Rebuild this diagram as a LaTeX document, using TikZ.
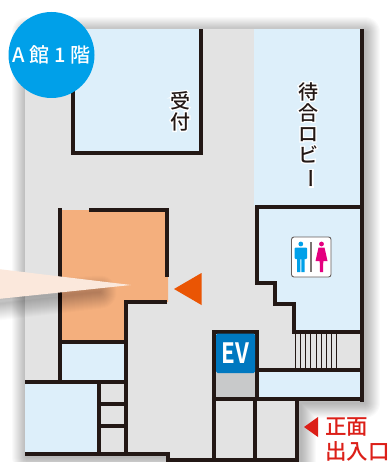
\documentclass[tikz,border=0pt]{standalone}
\usepackage{fontspec}
\setmainfont{Noto Sans CJK JP Medium}
\newfontfamily\boldlabel{Noto Sans CJK JP Bold}
\usetikzlibrary{calc}
\definecolor{wallc}{HTML}{231815}
\definecolor{floorc}{HTML}{E3E3E3}
\definecolor{roomc}{HTML}{DDEFFA}
\definecolor{orangec}{HTML}{F4AF7D}
\definecolor{calloutc}{HTML}{FBE8DC}
\definecolor{arrowc}{HTML}{EA5504}
\definecolor{cyanc}{HTML}{00A0E9}
\definecolor{evc}{HTML}{0078C0}
\definecolor{evgray}{HTML}{C8C9CA}
\definecolor{redc}{HTML}{DC1F18}
\definecolor{pinkc}{HTML}{E4007F}
\newcommand{\halotext}[1]{\leavevmode\rlap{\special{pdf:code 2 Tr 1 1 1 RG 2.6 w}\textcolor{white}{#1}\special{pdf:code 0 Tr}}#1}
\tikzset{
  wall/.style={draw=wallc,line width=4pt,line cap=butt,line join=miter},
  room/.style={fill=roomc,draw=none},
  vlabel/.style={inner sep=0pt,align=center,text=wallc,font=\fontsize{20pt}{21pt}\selectfont},
  entrylabel/.style={inner sep=0pt,anchor=west,text=redc,font=\fontsize{21.5pt}{24pt}\selectfont}
}
\begin{document}
\begin{tikzpicture}[x=1pt,y=-1pt]
\useasboundingbox (0,0) rectangle (390,462);
\clip (0,0) rectangle (390,462);
\fill[white] (0,0) rectangle (390,462);
% floor shadow
\foreach \w in {2,4,...,30}{
  \draw[black,draw opacity=0.018,line width=\w pt,line join=round]
    (27,32) -- (365,32) -- (365,403) -- (301,403) -- (301,475) -- (172,475) -- (172,457) -- (27,457) -- cycle;
}
% floor
\fill[floorc] (25,29) -- (362,29) -- (362,400) -- (298,400) -- (298,462) -- (168,462) -- (168,454) -- (25,454) -- cycle;
% rooms
\fill[room] (75,29) rectangle (199,151);
\fill[room] (254,29) rectangle (361,206);
\fill[room] (257,207) -- (361,207) -- (361,332) -- (294,332) -- (294,304) -- (275,304) -- (275,283) -- (257,283) -- cycle;
\fill[room] (60,342) rectangle (126,382);
\fill[room] (25,382) rectangle (99,454);
\fill[room] (257,370) rectangle (361,399);
\fill[orangec] (60,210) -- (168,210) -- (168,302) -- (126,302) -- (126,342) -- (60,342) -- cycle;
\fill[evgray] (214,372) rectangle (256,398);
% stairs
\foreach \sx in {295,300,305,310,316,321,326,331,336}{
  \draw[wallc,line width=0.9pt] (\sx,332) -- (\sx,370);
}
% walls
\draw[wall] (73,90) -- (73,153) -- (200.5,153) -- (200.5,29);
\draw[wall] (362,29) -- (362,402);
\draw[wall] (362,207) -- (257,207) -- (257,283) -- (275,283) -- (275,304) -- (294,304) -- (294,332) -- (362,332);
\draw[wall] (60,208) -- (60,382);
\draw[wall] (89,210) -- (167,210) -- (167,277);
\draw[wall] (167,302) -- (126,302) -- (126,454);
\draw[wall] (58,342) -- (128,342);
\draw[wall] (25,382) -- (128,382);
\draw[wall] (99,382) -- (99,454);
\draw[wall] (99,404) -- (126,404);
\draw[wall] (99,426) -- (126,426);
\draw[wall] (25,454) -- (168,454) -- (168,460) -- (297,460) -- (297,399);
\draw[wall] (214,460) -- (214,332) -- (257,332) -- (257,399);
\draw[wall] (257,370) -- (362,370);
\draw[wall] (213,399) -- (364,399);
\draw[wall] (255,399) -- (255,460);
% EV
\fill[evc,rounded corners=1.5pt] (216,333.5) rectangle (255,373);
\node[inner sep=0pt,text=white] (ev) at (235.5,353.5) {\fontsize{28pt}{28pt}\selectfont\boldlabel\scalebox{0.8}[1]{EV}};
% callout shadow
\foreach \w in {1,3,...,33}{
  \draw[black,draw opacity=0.016,line width=\w pt,line join=round]
    (-20,300) -- (100,292) -- (-20,306) -- cycle;
}
% callout
\fill[calloutc] (-2,269) -- (131,285) -- (-2,299) -- cycle;
% arrows
\fill[arrowc] (174,289) -- (201.5,273) -- (201.5,305) -- cycle;
\fill[redc] (304,427) -- (318,417) -- (318,437) -- cycle;
% badge
\fill[cyanc] (51.5,55) circle (43);
\node[inner sep=0pt,text=white] (badge) at (51.5,55) {\fontsize{20pt}{20pt}\selectfont A 館 1 階};
% labels
\node[vlabel] (reception) at (180,111) {\halotext{受}\\\halotext{付}};
\node[vlabel,anchor=north] (lobby) at (308,82) {\halotext{待}\\\halotext{合}\\\halotext{ロ}\\\halotext{ビ}\\\smash{\rotatebox[origin=c]{-90}{\halotext{ー}}}};
\node[entrylabel] (front) at (325,427) {正面};
\node[entrylabel] (entry) at (325,451.5) {出入口};
% toilet sign
\draw[wallc!70,fill=white,line width=0.9pt,rounded corners=2.5pt] (291.5,237) rectangle (331,277);
\draw[wallc!60,line width=1.2pt] (311,242) -- (311,272);
\fill[cyanc] (300.8,244) circle (2.4);
\fill[cyanc,rounded corners=1pt] (294.5,247.5) rectangle (307,259);
\fill[cyanc] (297,249) -- (304.5,249) -- (304.5,272) -- (301.3,272) -- (301.3,259) -- (300.3,259) -- (300.3,272) -- (297,272) -- cycle;
\fill[pinkc] (321.5,244) circle (2.4);
\fill[pinkc] (318.5,247.5) -- (324.5,247.5) -- (327.5,261) -- (323.3,261) -- (323,272) -- (320,272) -- (319.7,261) -- (315.5,261) -- cycle;
\end{tikzpicture}
\end{document}
